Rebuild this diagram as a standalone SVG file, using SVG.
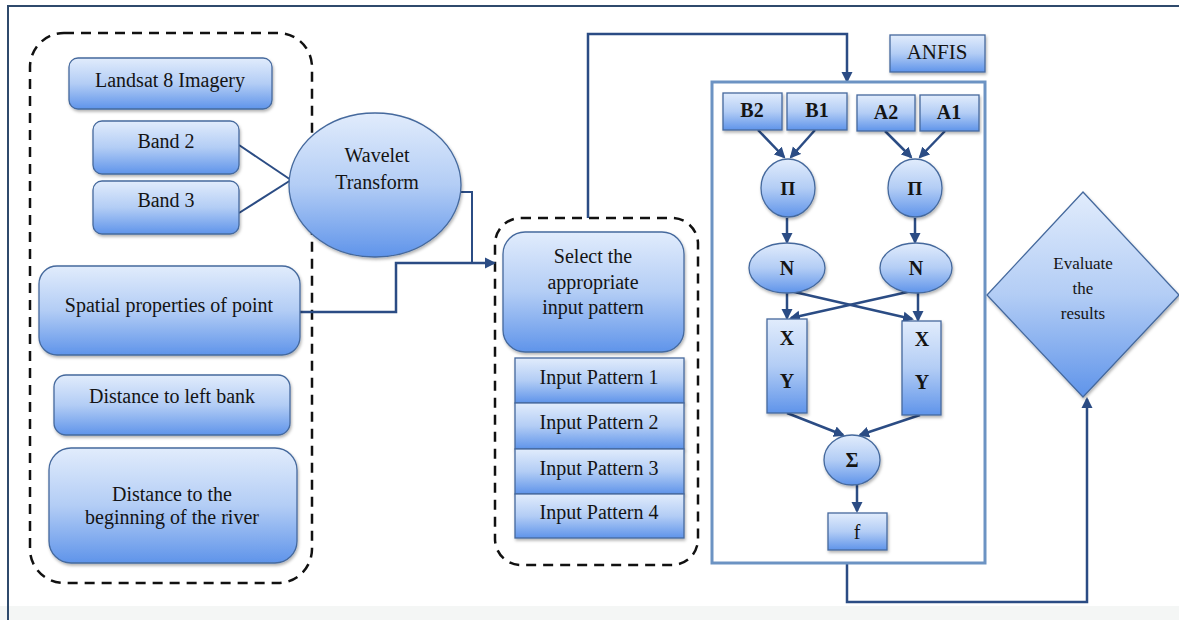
<svg xmlns="http://www.w3.org/2000/svg" width="1179" height="620" viewBox="0 0 1179 620">
<style>
.t{font-family:"Liberation Serif","Times New Roman",serif;font-size:20px;fill:#141414;text-anchor:middle}
.b{font-weight:bold}
.n{fill:url(#g);stroke:#45699d;stroke-width:1.3;filter:url(#sh)}
.dash{fill:none;stroke:#111;stroke-width:2.5;stroke-dasharray:10 7}
.c{fill:none;stroke:#2b4c84;stroke-width:2}
.ca{fill:none;stroke:#2b4c84;stroke-width:2.5;marker-end:url(#ah)}
</style>
<defs>
<linearGradient id="g" x1="0" y1="0" x2="0" y2="1">
<stop offset="0" stop-color="#e1ecfc"/>
<stop offset="0.5" stop-color="#b3cdf5"/>
<stop offset="1" stop-color="#5f94ea"/>
</linearGradient>
<filter id="sh" x="-10%" y="-10%" width="130%" height="130%">
<feDropShadow dx="1" dy="2" stdDeviation="1.5" flood-color="#000" flood-opacity="0.3"/>
</filter>
<marker id="ah" markerWidth="12" markerHeight="12" refX="9" refY="6" orient="auto" markerUnits="userSpaceOnUse">
<path d="M0,0.5 L11,6 L0,11.5 z" fill="#2b4c84"/>
</marker>
</defs>
<rect x="0" y="0" width="1179" height="620" fill="#ffffff"/>
<rect x="0" y="606" width="1179" height="14" fill="#f4f6f5"/>
<path d="M8,620 V6 H1179" fill="none" stroke="#2f4a6c" stroke-width="2"/>

<g id="left-group">
<rect class="dash" x="30" y="33" width="282" height="550" rx="34"/>
</g>
<g id="right-group">
<rect class="dash" x="495" y="218" width="203" height="347" rx="26"/>
</g>

<g id="connectors">
<path class="c" d="M239,145 L291,180"/>
<path class="c" d="M239,213 L291,180"/>
<path class="c" d="M461,192 H472 V263"/>
<path class="ca" d="M300,312 H396 V263 H494"/>
<path class="ca" d="M588,218 V34 H847 V81"/>
<path class="ca" d="M758,130 L784,157"/>
<path class="ca" d="M815,130 L791,157"/>
<path class="ca" d="M885,131 L911,157"/>
<path class="ca" d="M945,131 L920,157"/>
<path class="ca" d="M787,218 V242"/>
<path class="ca" d="M915,218 V242"/>
<path class="ca" d="M787,293 V318"/>
<path class="ca" d="M790,291 L912,319"/>
<path class="ca" d="M912,291 L791,318"/>
<path class="ca" d="M918,293 V320"/>
<path class="ca" d="M787,413 L843,435"/>
<path class="ca" d="M920,415 L860,435"/>
<path class="ca" d="M857,485 V511"/>
<path class="ca" d="M847,563 V602 H1087 V399"/>
</g>

<g id="landsat"><rect class="n" x="69" y="58" width="203" height="51" rx="9"/><text class="t" x="170" y="87">Landsat 8 Imagery</text></g>
<g id="band2"><rect class="n" x="93" y="121" width="146" height="53" rx="9"/><text class="t" x="166" y="148">Band 2</text></g>
<g id="band3"><rect class="n" x="93" y="181" width="146" height="53" rx="9"/><text class="t" x="166" y="207">Band 3</text></g>
<g id="wavelet"><ellipse class="n" cx="375" cy="185" rx="86" ry="72"/><text class="t" x="377" y="162">Wavelet</text><text class="t" x="377" y="189">Transform</text></g>
<g id="spatial"><rect class="n" x="39" y="266" width="261" height="89" rx="18"/><text class="t" x="169" y="312">Spatial properties of point</text></g>
<g id="dist-left"><rect class="n" x="54" y="375" width="236" height="60" rx="12"/><text class="t" x="172" y="403">Distance to left bank</text></g>
<g id="dist-begin"><rect class="n" x="49" y="448" width="248" height="115" rx="22"/><text class="t" x="172" y="501">Distance to the</text><text class="t" x="172" y="524">beginning of the river</text></g>

<g id="select"><rect class="n" x="503" y="232" width="181" height="120" rx="22"/><text class="t" x="593" y="263">Select the</text><text class="t" x="593" y="289">appropriate</text><text class="t" x="593" y="314">input pattern</text></g>
<g id="ip1"><rect class="n" x="515" y="358" width="169" height="45"/><text class="t" x="599" y="384">Input Pattern 1</text></g>
<g id="ip2"><rect class="n" x="515" y="403" width="169" height="46"/><text class="t" x="599" y="429">Input Pattern 2</text></g>
<g id="ip3"><rect class="n" x="515" y="449" width="169" height="45"/><text class="t" x="599" y="475">Input Pattern 3</text></g>
<g id="ip4"><rect class="n" x="515" y="494" width="169" height="44"/><text class="t" x="599" y="519">Input Pattern 4</text></g>

<g id="anfis-label"><rect class="n" x="890" y="35" width="95" height="37"/><text class="t" x="937" y="59" style="font-size:21px">ANFIS</text></g>
<g id="anfis-frame"><rect x="712" y="82" width="273" height="481" fill="none" stroke="#6c93c3" stroke-width="3"/></g>
<g id="b2"><rect class="n" x="723" y="93" width="59" height="37"/><text class="t b" x="752" y="117">B2</text></g>
<g id="b1"><rect class="n" x="787" y="93" width="60" height="37"/><text class="t b" x="817" y="117">B1</text></g>
<g id="a2"><rect class="n" x="857" y="95" width="58" height="36"/><text class="t b" x="886" y="119">A2</text></g>
<g id="a1"><rect class="n" x="920" y="95" width="59" height="36"/><text class="t b" x="949" y="119">A1</text></g>
<g id="pi1"><ellipse class="n" cx="788" cy="188" rx="27" ry="29"/><text class="t b" x="788" y="195" style="font-size:19px">Π</text></g>
<g id="pi2"><ellipse class="n" cx="915" cy="188" rx="27" ry="29"/><text class="t b" x="915" y="195" style="font-size:19px">Π</text></g>
<g id="n1"><ellipse class="n" cx="787" cy="268" rx="38" ry="25"/><text class="t b" x="787" y="275">N</text></g>
<g id="n2"><ellipse class="n" cx="916" cy="268" rx="36" ry="25"/><text class="t b" x="916" y="275">N</text></g>
<g id="xy1"><rect class="n" x="767" y="319" width="40" height="94"/><text class="t b" x="787" y="345">X</text><text class="t b" x="787" y="388">Y</text></g>
<g id="xy2"><rect class="n" x="902" y="321" width="39" height="94"/><text class="t b" x="922" y="346">X</text><text class="t b" x="922" y="389">Y</text></g>
<g id="sigma"><ellipse class="n" cx="852" cy="460" rx="28" ry="25"/><text class="t b" x="852" y="467">Σ</text></g>
<g id="f"><rect class="n" x="828" y="513" width="59" height="37"/><text class="t" x="857" y="539">f</text></g>

<g id="evaluate"><path class="n" d="M1083,192 L1179,295 L1083,397 L987,295 Z"/><text class="t" x="1083" y="269" style="font-size:17px">Evaluate</text><text class="t" x="1083" y="294" style="font-size:17px">the</text><text class="t" x="1083" y="319" style="font-size:17px">results</text></g>
</svg>
